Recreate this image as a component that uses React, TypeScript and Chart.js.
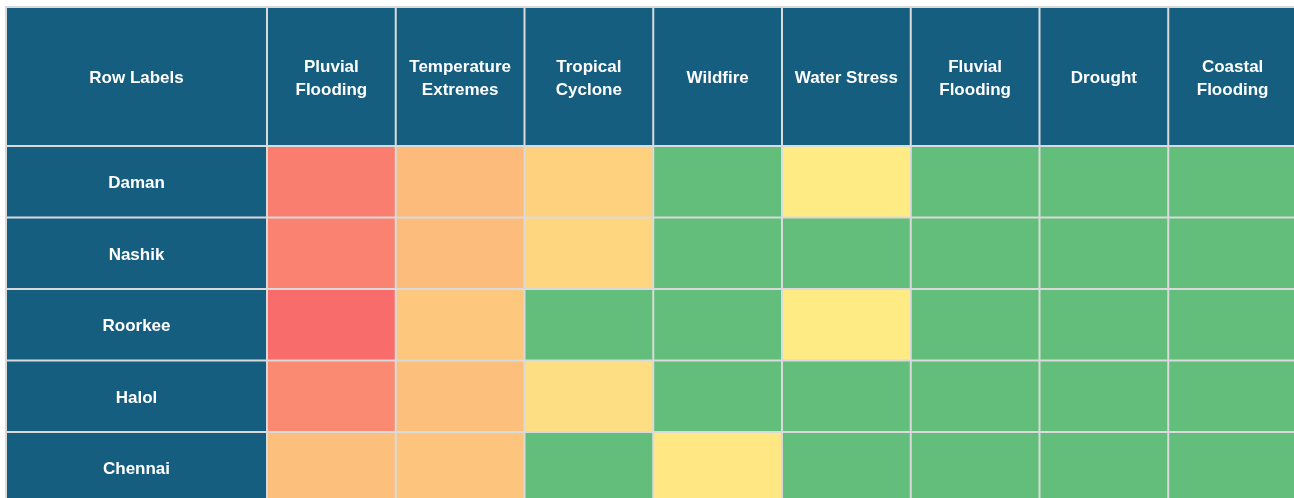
import { useEffect, useRef } from "react";
import { Chart, registerables } from "chart.js";

Chart.register(...registerables);

// ---- data ----
const hazards = [
  "Pluvial Flooding",
  "Temperature Extremes",
  "Tropical Cyclone",
  "Wildfire",
  "Water Stress",
  "Fluvial Flooding",
  "Drought",
  "Coastal Flooding",
];
const hazardTickLabels = [
  ["Pluvial", "Flooding"],
  ["Temperature", "Extremes"],
  ["Tropical", "Cyclone"],
  ["Wildfire"],
  ["Water Stress"],
  ["Fluvial", "Flooding"],
  ["Drought"],
  ["Coastal", "Flooding"],
];
const cities = ["Daman", "Nashik", "Roorkee", "Halol", "Chennai"];
const cornerLabel = "Row Labels";

// risk scores (10 = lowest / green, 50 = medium / yellow, 100 = highest / red)
const damanScores = [92, 69, 60, 10, 50, 10, 10, 10];
const nashikScores = [90, 68, 58, 10, 10, 10, 10, 10];
const roorkeeScores = [99, 64, 10, 10, 50, 10, 10, 10];
const halolScores = [87, 67, 55, 10, 10, 10, 10, 10];
const chennaiScores = [67, 65, 10, 51, 10, 10, 10, 10];
const cityScores = [damanScores, nashikScores, roorkeeScores, halolScores, chennaiScores];

// colour scale stops
const scaleMin = 10;
const scaleMid = 50;
const scaleMax = 100;
const GREEN = [99, 190, 123];
const YELLOW = [255, 235, 132];
const RED = [248, 105, 107];

// ---- styles / layout ----
const HEADER_BG = "#165e80";
const GRID_COLOR = "#dadada";
const FONT_FAMILY = '"Liberation Sans", Arial, Helvetica, sans-serif';
const FONT_SIZE = 17;
const LINE_H = 23;
const PAD_LEFT = 6;
const PAD_TOP = 7;
const LABEL_COL_W = 261;
const HEADER_H = 139;
const ROW_H = 71.5;
const RIGHT_OVERFLOW = 3;

function mix(a: number[], b: number[], t: number) {
  const c = a.map((v, i) => Math.round(v + (b[i] - v) * t));
  return `rgb(${c[0]},${c[1]},${c[2]})`;
}
function scoreColor(s: number) {
  if (s <= scaleMin) return mix(GREEN, GREEN, 0);
  if (s <= scaleMid) return mix(GREEN, YELLOW, (s - scaleMin) / (scaleMid - scaleMin));
  return mix(YELLOW, RED, Math.min(1, (s - scaleMid) / (scaleMax - scaleMid)));
}

function zeroPadding(scale: any) {
  scale.paddingLeft = 0;
  scale.paddingRight = 0;
  scale.paddingTop = 0;
  scale.paddingBottom = 0;
}

export default function App() {
  const canvasRef = useRef<HTMLCanvasElement | null>(null);

  useEffect(() => {
    const canvas = canvasRef.current;
    if (!canvas) return;
    const font = `bold ${FONT_SIZE}px ${FONT_FAMILY}`;
    const mctx = document.createElement("canvas").getContext("2d")!;
    mctx.font = font;
    const widest = Math.max(...cities.map((c) => mctx.measureText(c).width));
    const yPadding = LABEL_COL_W / 2 - widest / 2;
    const xPadding = HEADER_H / 2 - LINE_H / 2 - 2;

    const gridPlugin = {
      id: "tableGrid",
      beforeDraw(chart: any) {
        const { ctx, chartArea, width, height } = chart;
        ctx.save();
        ctx.fillStyle = HEADER_BG;
        ctx.fillRect(PAD_LEFT, PAD_TOP, width - PAD_LEFT, chartArea.top - PAD_TOP);
        ctx.fillRect(PAD_LEFT, chartArea.top, chartArea.left - PAD_LEFT, height - chartArea.top);
        ctx.restore();
      },
      afterDraw(chart: any) {
        const { ctx, chartArea, width, height } = chart;
        const xs = chart.scales.x;
        const ys = chart.scales.y;
        ctx.save();
        ctx.strokeStyle = GRID_COLOR;
        ctx.lineWidth = 2;
        const vx = [PAD_LEFT, chartArea.left];
        for (let i = 1; i <= hazards.length; i++) vx.push(xs.getPixelForValue(i - 0.5));
        const hy = [PAD_TOP];
        for (let i = 0; i <= cities.length; i++) hy.push(ys.getPixelForValue(i));
        ctx.beginPath();
        vx.forEach((x) => {
          ctx.moveTo(x, PAD_TOP - 1);
          ctx.lineTo(x, height);
        });
        hy.forEach((y) => {
          ctx.moveTo(PAD_LEFT - 1, y);
          ctx.lineTo(width, y);
        });
        ctx.stroke();
        ctx.fillStyle = "#ffffff";
        ctx.font = font;
        ctx.textAlign = "center";
        ctx.textBaseline = "middle";
        ctx.fillText(cornerLabel, (PAD_LEFT + chartArea.left) / 2, (PAD_TOP + chartArea.top) / 2 + 2);
        ctx.restore();
      },
    };

    const yMax = (canvas.parentElement!.clientHeight - PAD_TOP - HEADER_H) / ROW_H;

    const chart = new Chart(canvas, {
      type: "bar",
      data: {
        labels: hazards,
        datasets: cities.map((city, r) => ({
          label: city,
          data: hazards.map(() => [r, r + 1]) as any,
          backgroundColor: cityScores[r].map(scoreColor),
          borderWidth: 0,
          barPercentage: 1,
          categoryPercentage: 1,
          grouped: false,
        })),
      },
      options: {
        animation: false,
        responsive: true,
        maintainAspectRatio: false,
        events: [],
        layout: { padding: { left: PAD_LEFT, top: PAD_TOP, right: 0, bottom: 0 } },
        plugins: { legend: { display: false }, tooltip: { enabled: false } },
        scales: {
          x: {
            type: "category",
            position: "top",
            grid: { display: false, drawTicks: false },
            border: { display: false },
            afterFit(scale: any) {
              scale.height = HEADER_H;
              zeroPadding(scale);
            },
            ticks: {
              autoSkip: false,
              maxRotation: 0,
              minRotation: 0,
              crossAlign: "center",
              padding: xPadding,
              color: "#ffffff",
              font: { family: FONT_FAMILY, size: FONT_SIZE, weight: "bold", lineHeight: LINE_H / FONT_SIZE },
              callback: (_v: any, i: number) => hazardTickLabels[i],
            },
          },
          y: {
            type: "linear",
            reverse: true,
            min: 0,
            max: yMax,
            grid: { display: false, drawTicks: false },
            border: { display: false },
            afterFit(scale: any) {
              scale.width = LABEL_COL_W;
              zeroPadding(scale);
            },
            afterBuildTicks(scale: any) {
              scale.ticks = cities.map((_c, i) => ({ value: i + 0.5 }));
            },
            ticks: {
              crossAlign: "center",
              padding: yPadding,
              labelOffset: 2,
              color: "#ffffff",
              font: { family: FONT_FAMILY, size: FONT_SIZE, weight: "bold" },
              callback: (v: any) => cities[Math.floor(Number(v))],
            },
          },
        },
      } as any,
      plugins: [gridPlugin],
    });
    return () => chart.destroy();
  }, []);

  return (
    <div style={{ position: "fixed", left: 0, top: 0, width: "100vw", height: "100vh", overflow: "hidden", background: "#ffffff" }}>
      <div style={{ position: "absolute", left: 0, top: 0, width: `calc(100vw + ${RIGHT_OVERFLOW}px)`, height: "100vh" }}>
        <canvas ref={canvasRef} />
      </div>
    </div>
  );
}
